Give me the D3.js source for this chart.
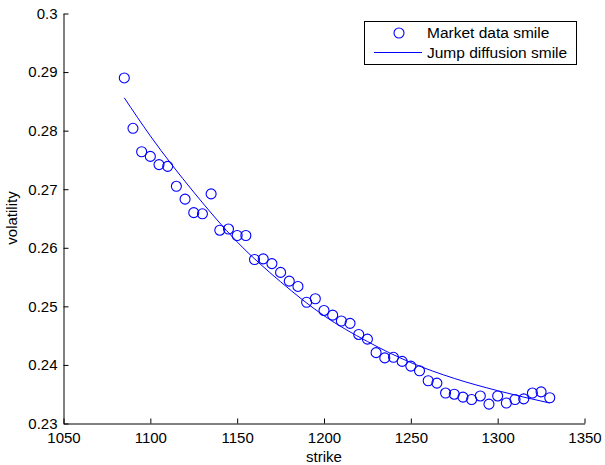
<!DOCTYPE html>
<html><head><meta charset="utf-8">
<script src="https://cdn.jsdelivr.net/npm/d3@7"></script>
<style>body{margin:0;background:#fff}svg{display:block}text{font-family:"Liberation Sans",Arial,Helvetica,sans-serif;fill:#000}</style>
</head><body>
<script>
const strikes = [1085,1090,1095,1100,1105,1110,1115,1120,1125,1130,1135,1140,1145,1150,1155,1160,1165,1170,1175,1180,1185,1190,1195,1200,1205,1210,1215,1220,1225,1230,1235,1240,1245,1250,1255,1260,1265,1270,1275,1280,1285,1290,1295,1300,1305,1310,1315,1320,1325,1330];
const marketVol = [0.2890,0.2804,0.2764,0.2756,0.2742,0.2739,0.2705,0.2683,0.2660,0.2658,0.2692,0.2630,0.2632,0.2621,0.2621,0.2580,0.2581,0.2573,0.2558,0.2543,0.2534,0.2507,0.2513,0.2493,0.2485,0.2475,0.2471,0.2452,0.2444,0.2421,0.2412,0.2413,0.2406,0.2398,0.2390,0.2373,0.2369,0.2352,0.2350,0.2345,0.2341,0.2347,0.2333,0.2347,0.2335,0.2341,0.2342,0.2352,0.2354,0.2344];
const modelStrikes = [1085,1100,1125,1150,1175,1200,1225,1250,1275,1300,1330];
const modelVol = [0.2856,0.2791,0.2695,0.2610,0.2542,0.2484,0.2440,0.2404,0.2377,0.2356,0.2335];
const xTicks = [1050,1100,1150,1200,1250,1300,1350];
const yTicks = [0.23,0.24,0.25,0.26,0.27,0.28,0.29,0.3];
const legendLabels = ["Market data smile","Jump diffusion smile"];
const blue = "#0000ff";

const W=605,H=465;
const svg=d3.select("body").append("svg").attr("width",W).attr("height",H);
const x=d3.scaleLinear().domain([1050,1350]).range([63.5,584.5]);
const y=d3.scaleLinear().domain([0.23,0.3]).range([423.5,13.5]);

const xAxis=d3.axisBottom(x).tickValues(xTicks).tickFormat(d3.format("d")).tickSizeInner(-5).tickSizeOuter(0).tickPadding(9);
const gx=svg.append("g").attr("transform","translate(0,423.5)").call(xAxis);
const yAxis=d3.axisLeft(y).tickValues(yTicks).tickFormat(d=>String(+d.toFixed(2))).tickSizeInner(-5).tickSizeOuter(0).tickPadding(6);
const gy=svg.append("g").attr("transform","translate(63.5,0)").call(yAxis);
[gx,gy].forEach(g=>{g.selectAll("path,line").attr("stroke","#000");g.selectAll("text").style("font-size","15px").attr("fill","#000");});
gx.selectAll("text").attr("dy","0.71em");

svg.append("text").attr("x",(63.5+584.5)/2).attr("y",462).attr("text-anchor","middle").style("font-size","15px").text("strike");
svg.append("text").attr("transform","translate(17,218) rotate(-90)").attr("text-anchor","middle").style("font-size","15px").text("volatility");

const line=d3.line().x(d=>x(d[0])).y(d=>y(d[1])).curve(d3.curveMonotoneX);
svg.append("path").datum(modelStrikes.map((s,i)=>[s,modelVol[i]])).attr("d",line).attr("fill","none").attr("stroke",blue).attr("stroke-width",1);

svg.append("g").selectAll("circle").data(strikes).join("circle")
  .attr("cx",d=>x(d)).attr("cy",(d,i)=>y(marketVol[i])).attr("r",5)
  .attr("fill","none").attr("stroke",blue).attr("stroke-width",1.1);

const lg=svg.append("g");
lg.append("rect").attr("x",364.5).attr("y",21.5).attr("width",212).attr("height",43).attr("fill","#fff").attr("stroke","#000");
lg.append("circle").attr("cx",399).attr("cy",33).attr("r",5).attr("fill","none").attr("stroke",blue).attr("stroke-width",1.1);
lg.append("line").attr("x1",374).attr("x2",422).attr("y1",52.5).attr("y2",52.5).attr("stroke",blue);
lg.selectAll("text.l").data(legendLabels).join("text").attr("class","l")
  .attr("x",427).attr("y",(d,i)=>33+i*19.5).attr("dy","0.35em").style("font-size","15.5px").text(d=>d);
</script>
</body></html>
